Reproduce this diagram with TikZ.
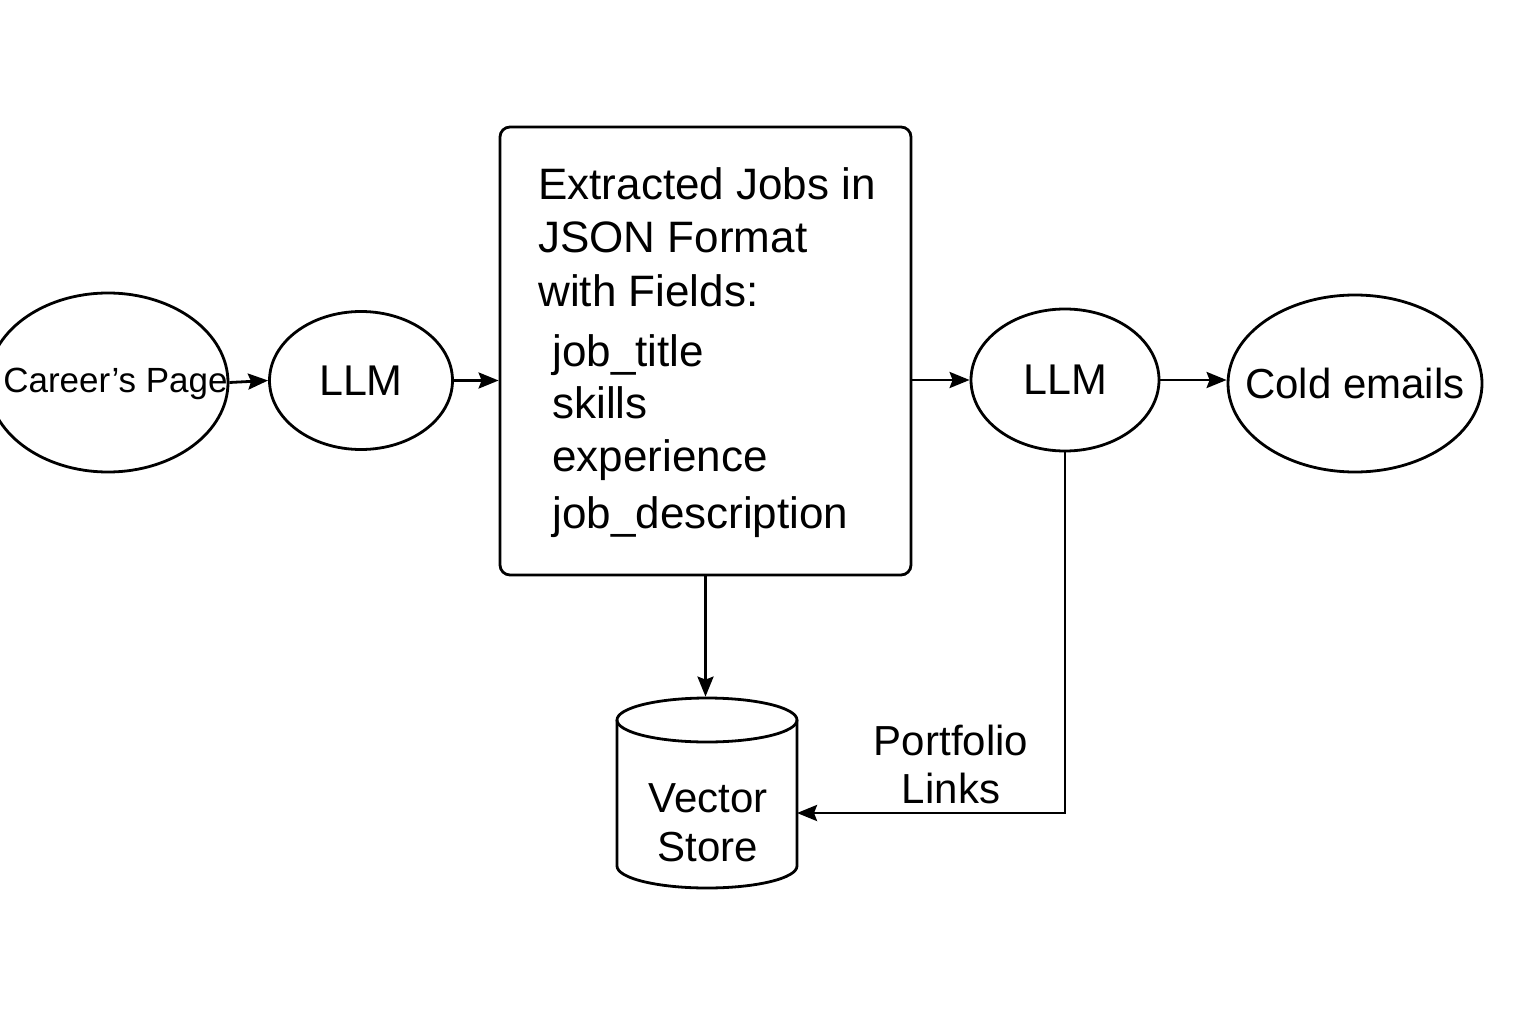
\documentclass[tikz,border=0pt]{standalone}
\usepackage{fontspec}
\setmainfont{Liberation Sans}
\usetikzlibrary{shapes.geometric,arrows.meta}
\begin{document}
\begin{tikzpicture}[x=1pt,y=-1pt,
  line width=2.8pt,
  oval/.style={draw,ellipse,inner sep=0pt},
  lbl/.style={inner sep=0pt,font=\fontsize{42}{50}\selectfont},
  boxline/.style={inner sep=0pt,anchor=base west,font=\fontsize{44}{50}\selectfont},
  arr/.style={-{Stealth[length=20pt,width=16pt,inset=3pt]}}]
\useasboundingbox (0,0) rectangle (1536,1024);
% nodes
\node[oval,minimum width=240pt,minimum height=179pt] (career) at (108,382.5) {};
\node[lbl,anchor=base,font=\fontsize{35}{42}\selectfont] (careert) at (115.5,392) {Career’s Page};
\node[oval,minimum width=183pt,minimum height=138pt] (llm1) at (361,380.5) {};
\node[lbl,font=\fontsize{43}{50}\selectfont] at (llm1) {LLM};
\draw[rounded corners=10pt] (500,127) rectangle (911,575);
\node[inner sep=0pt,minimum width=411pt,minimum height=448pt] (box) at (705.5,351) {};
\node[boxline] (b1) at (537,200) {Extracted Jobs in};
\node[boxline] (b2) at (537,253) {JSON Format};
\node[boxline] (b3) at (537,306) {with Fields:};
\node[boxline] (b4) at (551,366) {job\_title};
\node[boxline] (b5) at (551,418) {skills};
\node[boxline] (b6) at (551,471) {experience};
\node[boxline] (b7) at (551,528) {job\_description};
\node[oval,minimum width=188pt,minimum height=142pt] (llm2) at (1065,380) {};
\node[lbl,font=\fontsize{43}{50}\selectfont] at (llm2) {LLM};
\node[oval,minimum width=254pt,minimum height=177pt] (cold) at (1355,383.5) {};
\node[lbl] at (cold) {Cold emails};
% vector store cylinder
\node[inner sep=0pt,minimum width=180pt,minimum height=190pt] (vs) at (707,793) {};
\draw (707,720) ellipse[x radius=90,y radius=22];
\draw (617,720) -- (617,866) arc[x radius=90,y radius=22,start angle=180,end angle=0] -- (797,720);
\node[lbl,anchor=base] (vst1) at (708,812) {Vector};
\node[lbl,anchor=base] (vst2) at (708,861) {Store};
% connectors
\draw[arr] (career.east) -- (llm1.west);
\draw[arr] (llm1.east) -- (llm1.east -| box.west);
\draw[arr] (box.east |- llm2.west) -- (llm2.west);
\draw[arr] (llm2.east) -- (llm2.east -| cold.west);
\draw[arr] (box.south) -- (box.south |- vs.north);
\coordinate (pl) at (797,813);
\draw[arr] (llm2.south) -- (llm2.south |- pl) -- (pl);
\node[lbl,anchor=base] (pf1) at (951,755) {Portfolio};
\node[lbl,anchor=base] (pf2) at (951,803) {Links};
\end{tikzpicture}
\end{document}
